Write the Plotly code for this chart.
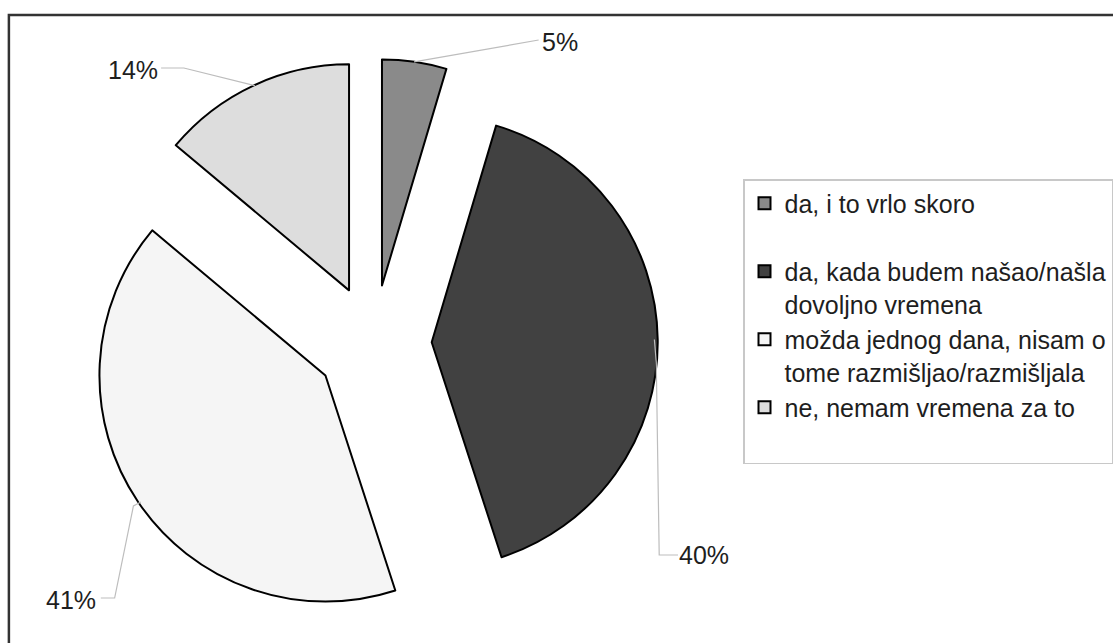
import math
import plotly.graph_objects as go

# ---------------- data ----------------
labels = [
    "da, i to vrlo skoro",
    "da, kada budem našao/našla<br>dovoljno vremena",
    "možda jednog dana, nisam o<br>tome razmišljao/razmišljala",
    "ne, nemam vremena za to",
]
values = [4.6, 40.4, 41.1, 13.9]          # percent shares (shown rounded)
value_texts = ["{:.0f}%".format(v) for v in values]

# ---------------- styles ----------------
W, H = 1113, 643
slice_colors = ["#8a8a8a", "#414141", "#f5f5f5", "#dddddd"]
PULL = 0.257
DOM_X = [0.0701, 0.6092]
DOM_Y = [0.0247, 0.9084]
FONT = "Liberation Sans, Arial, sans-serif"
TXT = "#1e1e1e"

# label placement in pixels (label centre) and elbow points for leader lines
label_pos = [(567, 42), (712, 555), (72, 600), (135, 70)]
label_elbows = [
    [(545, 40)],
    [(664, 362), (667, 555), (686, 555)],
    [(135, 506), (116, 598), (102, 598)],
    [(186, 68), (163, 68)],
]

# legend entries: single-line entries padded to two lines (Excel-like even rows)
legend_labels = [lab if "<br>" in lab else lab + "<br> " for lab in labels]

fig = go.Figure()
fig.add_trace(go.Pie(
    labels=legend_labels,
    values=values,
    sort=False,
    direction="clockwise",
    rotation=0,
    pull=PULL,
    textinfo="none",
    hovertext=labels,
    hoverinfo="text+percent",
    marker=dict(colors=slice_colors, line=dict(color="#000000", width=2)),
    domain=dict(x=DOM_X, y=DOM_Y),
    showlegend=True,
))

# geometry of the pie as plotly lays it out (margins are zero)
cx = W * (DOM_X[0] + DOM_X[1]) / 2
cy = H * (1 - (DOM_Y[0] + DOM_Y[1]) / 2)
r = min(W * (DOM_X[1] - DOM_X[0]), H * (DOM_Y[1] - DOM_Y[0])) / (2 + 2 * PULL)

def px2paper(x, y):
    return x / W, 1 - y / H

total = sum(values)
cum = 0.0
shapes = []
annotations = []
for i, v in enumerate(values):
    mid = 2 * math.pi * (cum + v / 2) / total
    cum += v
    dx, dy = math.sin(mid), -math.cos(mid)
    ax_ = cx + r * (1 + PULL) * dx
    ay_ = cy + r * (1 + PULL) * dy
    pts = [(ax_, ay_)] + label_elbows[i]
    path = "M " + " L ".join(
        "{:.5f},{:.5f}".format(*px2paper(x, y)) for x, y in pts)
    shapes.append(dict(type="path", xref="paper", yref="paper", path=path,
                       line=dict(color="#bdbdbd", width=1.2)))
    lx, ly = px2paper(*label_pos[i])
    annotations.append(dict(x=lx, y=ly, xref="paper", yref="paper",
                            text=value_texts[i], showarrow=False,
                            xanchor="center", yanchor="middle",
                            font=dict(family=FONT, size=25, color=TXT)))

# outer frame of the chart area
shapes.append(dict(type="rect", xref="paper", yref="paper",
                   x0=9 / W, y0=-0.05, x1=1.05, y1=1 - 15 / H,
                   line=dict(color="#333333", width=2.5), fillcolor="rgba(0,0,0,0)"))

fig.update_layout(
    width=W, height=H,
    margin=dict(l=0, r=0, t=0, b=0),
    paper_bgcolor="white",
    plot_bgcolor="white",
    font=dict(family=FONT, size=25, color=TXT),
    shapes=shapes,
    annotations=annotations,
    legend=dict(
        x=752 / W, y=1 - 179 / H, xanchor="left", yanchor="top",
        bgcolor="white", bordercolor="#c8c8c8", borderwidth=1.5,
        font=dict(family=FONT, size=25, color=TXT),
        valign="top", itemwidth=30,
    ),
)

fig.write_html("out.html", config={"displayModeBar": False},
               post_script="document.body.style.margin='0';")
